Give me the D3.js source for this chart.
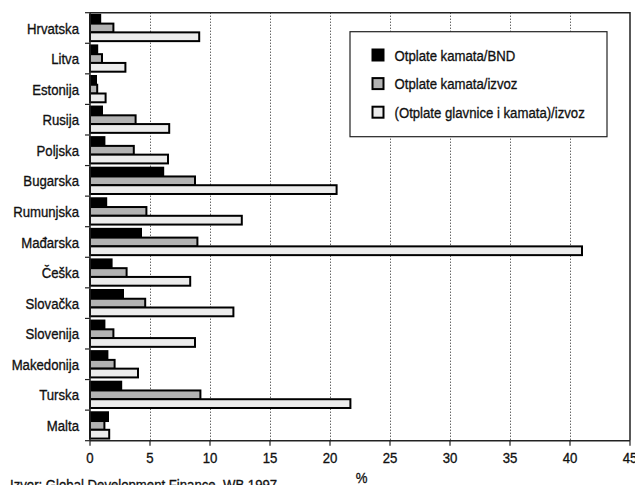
<!DOCTYPE html>
<html>
<head>
<meta charset="utf-8">
<script src="https://cdn.jsdelivr.net/npm/d3@7"></script>
<style>
  html, body { margin: 0; padding: 0; background: #fff; }
  svg { display: block; }
  text { font-family: "Liberation Sans", Arial, sans-serif; fill: #111; stroke: #111; stroke-width: 0.35px; }
</style>
</head>
<body>
<svg id="chart" width="635" height="485"></svg>
<script>
// Countries, top to bottom
const countries = ["Hrvatska", "Litva", "Estonija", "Rusija", "Poljska", "Bugarska", "Rumunjska",
  "Mađarska", "Češka", "Slovačka", "Slovenija", "Makedonija", "Turska", "Malta"];

// Series names (legend order)
const seriesNames = ["Otplate kamata/BND", "Otplate kamata/izvoz", "(Otplate glavnice i kamata)/izvoz"];

// Values in %, one per country, same order as countries
const kamataBND    = [0.85, 0.6, 0.5, 1.0, 1.2, 6.1, 1.35, 4.25, 1.8, 2.75, 1.2, 1.45, 2.6, 1.5];
const kamataIzvoz  = [1.95, 1.0, 0.6, 3.8, 3.65, 8.75, 4.7, 8.95, 3.05, 4.6, 1.95, 2.05, 9.2, 1.2];
const glavnicaIzvoz = [9.1, 2.95, 1.3, 6.6, 6.5, 20.55, 12.65, 41.0, 8.35, 11.95, 8.75, 4.0, 21.7, 1.6];

const xTicks = [0, 5, 10, 15, 20, 25, 30, 35, 40, 45];
const fills = ["#000000", "#b2b2b2", "#ececec"];

const seriesValues = [kamataBND, kamataIzvoz, glavnicaIzvoz];

const FONT = 15.5;     // base font size
const SQUEEZE = 0.85;  // horizontal condensing of the lettering

const svg = d3.select("#chart");
const plot = { left: 90, right: 630, top: 12.7, bottom: 440.7 };

const x = d3.scaleLinear().domain([0, 45]).range([plot.left, plot.right]);
const y = d3.scaleBand().domain(countries).range([plot.top, plot.bottom])
  .paddingInner(0.14).paddingOuter(0.07);
const ys = d3.scaleBand().domain(d3.range(seriesNames.length)).range([0, y.bandwidth()]);

// Condensed text helper: positions a text node and squeezes it horizontally
function label(sel, tx, ty, anchor, size) {
  return sel
    .attr("transform", (d, i) => `translate(${tx(d, i)},${ty(d, i)}) scale(${SQUEEZE},1)`)
    .attr("text-anchor", anchor)
    .attr("font-size", size);
}

// Dotted vertical gridlines
svg.append("g").selectAll("line")
  .data(xTicks.filter(t => t > 0 && t < 45))
  .join("line")
  .attr("x1", d => Math.round(x(d)) + 0.5).attr("x2", d => Math.round(x(d)) + 0.5)
  .attr("y1", plot.top).attr("y2", plot.bottom)
  .attr("stroke", "#222").attr("stroke-width", 1).attr("stroke-dasharray", "1,2");

// Frame: top and right edges
svg.append("path")
  .attr("d", `M${plot.left},${plot.top}H${plot.right}V${plot.bottom}`)
  .attr("fill", "none").attr("stroke", "#222").attr("stroke-width", 1.5);

// Bars
const rows = countries.map((c, i) => ({ country: c, values: seriesValues.map(s => s[i]) }));
const groups = svg.append("g").selectAll("g")
  .data(rows).join("g")
  .attr("transform", d => `translate(0,${y(d.country)})`);
groups.selectAll("rect")
  .data(d => d.values.map((v, k) => ({ v, k })))
  .join("rect")
  .attr("x", x(0))
  .attr("y", d => ys(d.k))
  .attr("width", d => x(d.v) - x(0))
  .attr("height", ys.bandwidth())
  .attr("fill", d => fills[d.k])
  .attr("stroke", "#000").attr("stroke-width", 2);

// Y axis
const yAxis = svg.append("g").attr("transform", `translate(${plot.left},0)`);
yAxis.append("line").attr("x1", 0).attr("x2", 0).attr("y1", plot.top).attr("y2", plot.bottom)
  .attr("stroke", "#222").attr("stroke-width", 1.5);
const bounds = d3.range(countries.length + 1).map(i => plot.top + i * y.step());
yAxis.selectAll("line.tk").data(bounds).join("line").attr("class", "tk")
  .attr("x1", -5).attr("x2", 0).attr("y1", d => d).attr("y2", d => d)
  .attr("stroke", "#222").attr("stroke-width", 1.2);
label(yAxis.selectAll("text").data(countries).join("text"),
  () => -11, d => y(d) + y.bandwidth() / 2, "end", FONT)
  .attr("dy", "0.36em").text(d => d);

// X axis
const xAxis = svg.append("g").attr("transform", `translate(0,${plot.bottom})`);
xAxis.append("line").attr("x1", plot.left).attr("x2", plot.right).attr("y1", 0).attr("y2", 0)
  .attr("stroke", "#222").attr("stroke-width", 1.5);
xAxis.selectAll("line.tk").data(xTicks).join("line").attr("class", "tk")
  .attr("x1", d => x(d)).attr("x2", d => x(d)).attr("y1", 0).attr("y2", 5)
  .attr("stroke", "#222").attr("stroke-width", 1.2);
label(xAxis.selectAll("text").data(xTicks).join("text"),
  d => x(d), () => 22.6, "middle", FONT).text(d => d);

label(svg.append("text"), () => 361.7, () => 483, "middle", FONT).text("%");

label(svg.append("text"), () => 10, () => 490, "start", FONT)
  .text("Izvor: Global Development Finance, WB 1997");

// Legend
const legend = svg.append("g").attr("transform", "translate(350,31.7)");
legend.append("rect").attr("width", 257).attr("height", 105)
  .attr("fill", "#fff").attr("stroke", "#222").attr("stroke-width", 1.2);
const li = legend.selectAll("g").data(seriesNames).join("g")
  .attr("transform", (d, i) => `translate(22.5,${23.3 + i * 28.6})`);
li.append("rect").attr("x", 0).attr("y", -5.5).attr("width", 11).attr("height", 11)
  .attr("fill", (d, i) => fills[i]).attr("stroke", "#000").attr("stroke-width", 2);
label(li.append("text"), () => 22, () => 0, "start", FONT)
  .attr("dy", "0.36em").text(d => d);
</script>
</body>
</html>
